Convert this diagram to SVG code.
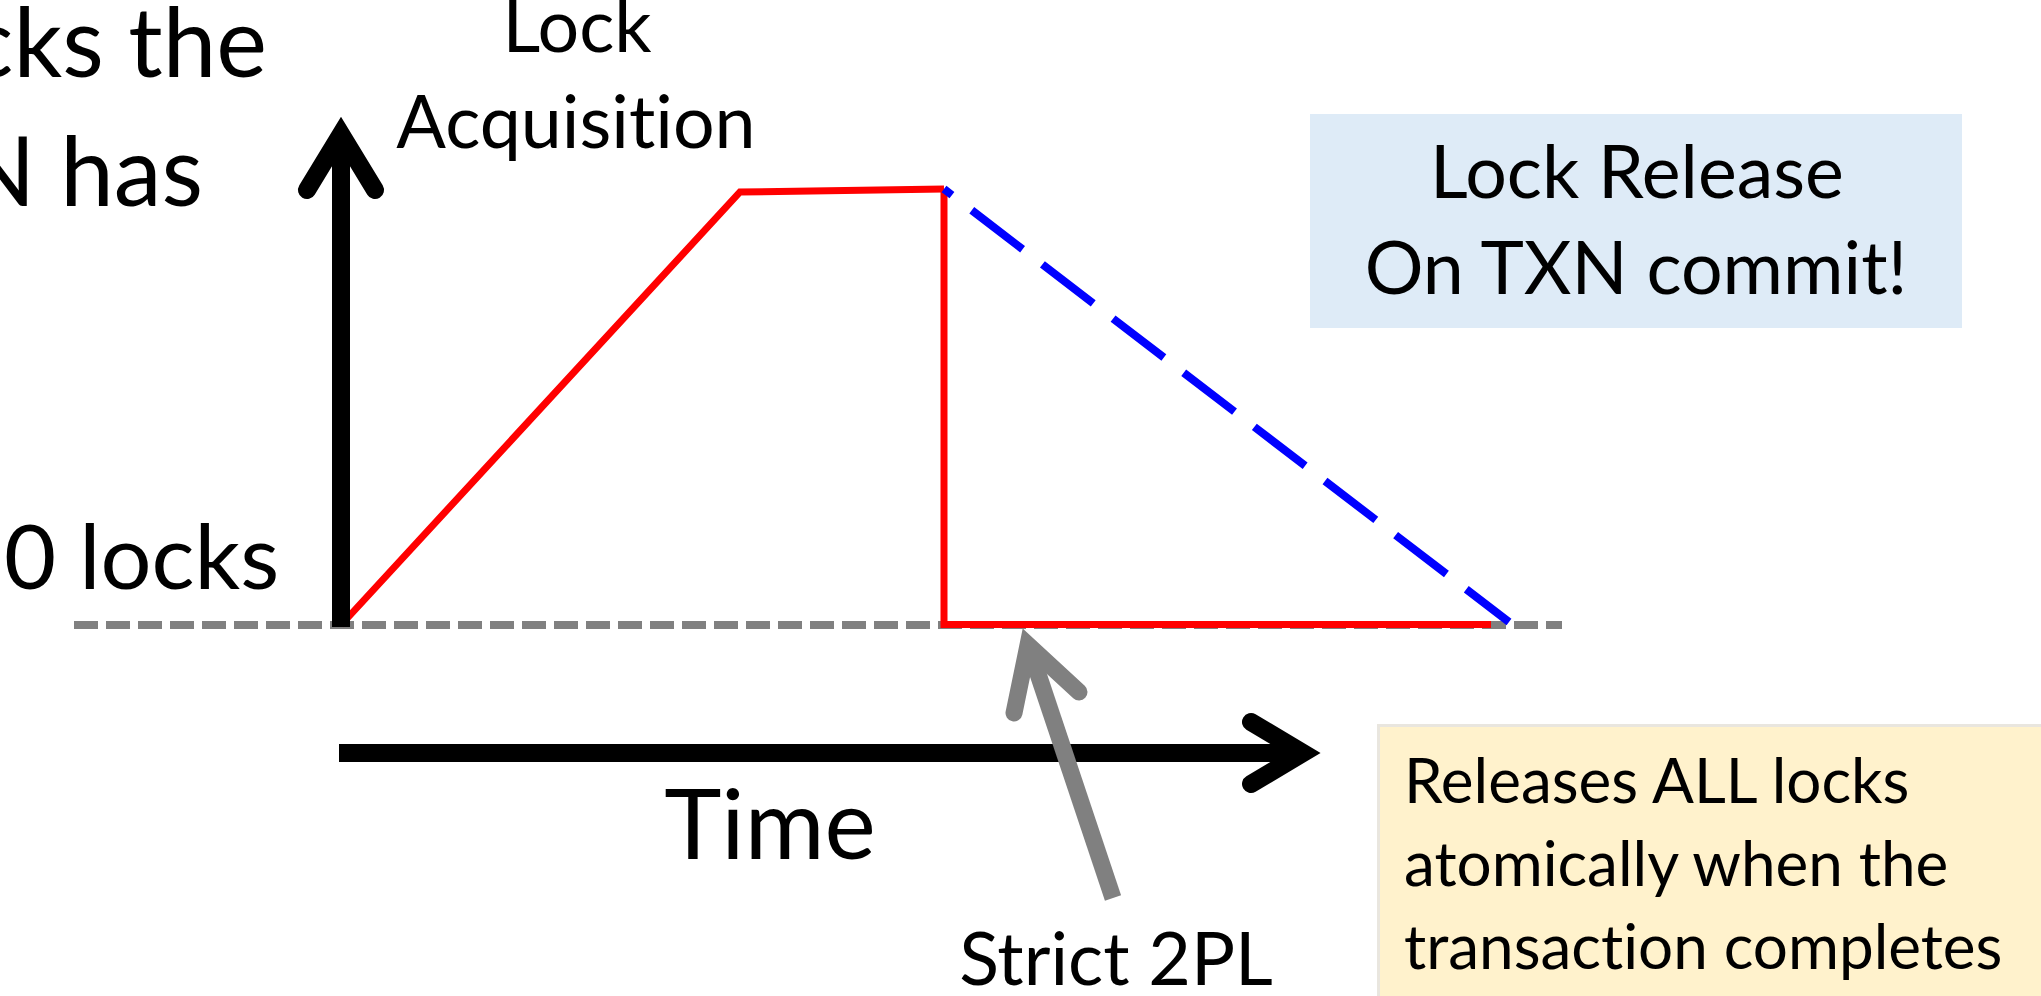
<svg xmlns="http://www.w3.org/2000/svg" width="2041" height="996" viewBox="0 0 2041 996">
  <style>
    text { font-family: Lato, "Liberation Sans", sans-serif; fill: #000; font-variant-ligatures: none; font-feature-settings: "liga" 0, "clig" 0; }
    .label { font-size: 73.5px; }
    .big { font-size: 92px; }
    .note { font-size: 62px; }
    .axis { stroke: #000; stroke-width: 18; fill: none; }
    .head { stroke-linecap: round; stroke-linejoin: miter; stroke-miterlimit: 10; }
    .lock { stroke: #ff0000; stroke-width: 7; fill: none; stroke-linejoin: miter; }
  </style>

  <rect width="2041" height="996" fill="#ffffff"/>

  <!-- axis title, partly off the left edge -->
  <g id="y-axis-title">
    <text x="267" y="77" text-anchor="end" font-size="96">cks the</text>
    <text x="203" y="206" text-anchor="end" font-size="96">N has</text>
  </g>

  <g id="zero-locks-label">
    <text x="4" y="589" font-size="90">0 locks</text>
  </g>

  <g id="acquisition-label">
    <text class="label" x="577" y="52" text-anchor="middle">Lock</text>
    <text class="label" x="576" y="148" text-anchor="middle">Acquisition</text>
  </g>

  <g id="release-box">
    <rect x="1310" y="114" width="652" height="214" fill="#deebf7"/>
    <text class="label" x="1637" y="198" text-anchor="middle">Lock Release</text>
    <text class="label" x="1636" y="294" text-anchor="middle">On TXN commit!</text>
  </g>

  <g id="time-label">
    <text x="770" y="859" text-anchor="middle" font-size="97">Time</text>
  </g>

  <g id="strict-2pl-label">
    <text class="label" x="1116" y="985" text-anchor="middle">Strict 2PL</text>
  </g>

  <g id="atomic-release-note">
    <rect x="1377" y="724" width="670" height="280" fill="#e9e6df"/>
    <rect x="1380" y="727" width="670" height="280" fill="#fff2cc"/>
    <text class="note" x="1404" y="803">Releases ALL locks</text>
    <text class="note" x="1404" y="886">atomically when the</text>
    <text class="note" x="1404" y="969">transaction completes</text>
  </g>

  <g id="connectors">
    <!-- zero-lock baseline -->
    <line x1="74" y1="625" x2="1562" y2="625" stroke="#808080" stroke-width="8" stroke-dasharray="24 8"/>

    <!-- locks held: growing, plateau, drop to zero at commit -->
    <polyline class="lock" points="341,625 740,192 944,189"/>
    <polyline class="lock" points="944,189 944,624.5 1491,624.5"/>

    <!-- gradual release alternative -->
    <line x1="944" y1="189" x2="1509" y2="622" stroke="#0000ff" stroke-width="8" stroke-dasharray="64 25" stroke-dashoffset="54"/>

    <!-- vertical axis -->
    <line class="axis" x1="341" y1="627" x2="341" y2="140"/>
    <polyline class="axis head" points="307,190 341,134 375,190"/>

    <!-- time axis -->
    <line class="axis" x1="339" y1="753" x2="1300" y2="753"/>
    <polyline class="axis head" points="1251,722 1303,753 1251,784"/>

    <!-- pointer to the instant drop -->
    <line x1="1113" y1="898" x2="1030" y2="650" stroke="#808080" stroke-width="17"/>
    <polyline points="1014,713 1028,645 1079,692" fill="none" stroke="#808080" stroke-width="17" stroke-linecap="round" stroke-linejoin="miter" stroke-miterlimit="10"/>
  </g>
</svg>
